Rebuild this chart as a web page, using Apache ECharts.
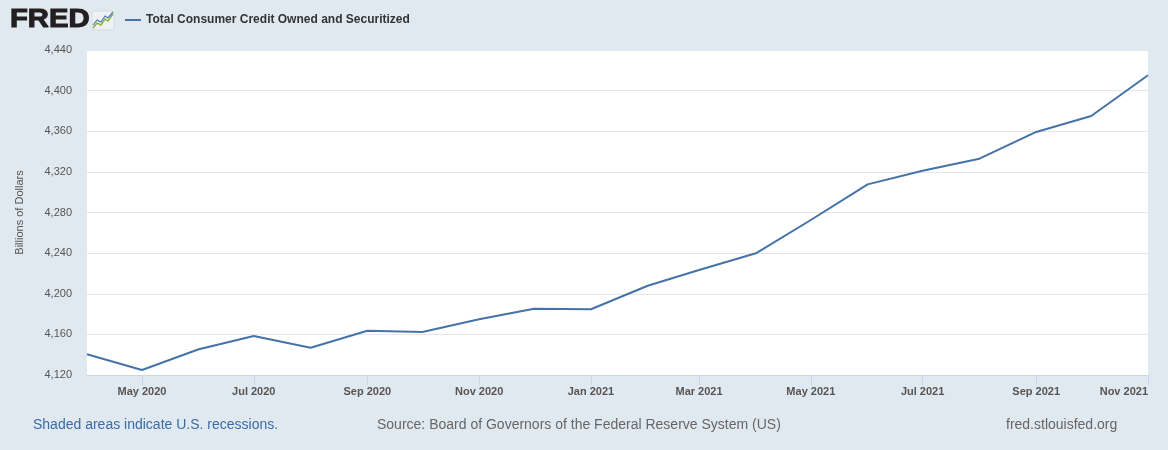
<!DOCTYPE html>
<html>
<head>
<meta charset="utf-8">
<script src="https://cdn.jsdelivr.net/npm/echarts@6/dist/echarts.min.js"></script>
<style>
html,body{margin:0;padding:0;background:#e1e9f0;}
#c{width:1168px;height:450px;}
</style>
</head>
<body>
<div id="c"></div>
<script>
const seriesName = 'Total Consumer Credit Owned and Securitized';
const dates = ['2020-04-01','2020-05-01','2020-06-01','2020-07-01','2020-08-01','2020-09-01','2020-10-01','2020-11-01','2020-12-01','2021-01-01','2021-02-01','2021-03-01','2021-04-01','2021-05-01','2021-06-01','2021-07-01','2021-08-01','2021-09-01','2021-10-01','2021-11-01'];
const values = [4140.4,4124.9,4145.3,4158.4,4146.9,4163.6,4162.3,4174.8,4185.3,4184.7,4207.9,4223.4,4239.8,4272.6,4307.7,4321.2,4333.0,4359.3,4375.0,4415.1];
const xTickDates = ['2020-05-01','2020-07-01','2020-09-01','2020-11-01','2021-01-01','2021-03-01','2021-05-01','2021-07-01','2021-09-01','2021-11-01'];
const yMin = 4120, yMax = 4440, yStep = 40;
const monthNames = ['Jan','Feb','Mar','Apr','May','Jun','Jul','Aug','Sep','Oct','Nov','Dec'];

function ts(s){ const p = s.split('-'); return Date.UTC(+p[0], +p[1]-1, +p[2]); }

const chart = echarts.init(document.getElementById('c'), null, {renderer:'canvas'});
const tickTs = xTickDates.map(ts);
const option = {
  backgroundColor: '#e1e9f0',
  animation: false,
  textStyle: {fontFamily: '"Liberation Sans", Arial, sans-serif'},
  grid: {left: 87, top: 50, right: 20, bottom: 75, backgroundColor: '#ffffff', show: true, borderWidth: 0},
  legend: {
    show: true,
    left: 120, top: 9,
    itemWidth: 16, itemHeight: 2,
    icon: 'rect',
    itemGap: 8,
    textStyle: {fontSize: 12, fontWeight: 'bold', color: '#333333', fontFamily: '"Liberation Sans", Arial, sans-serif'},
    data: [seriesName]
  },
  xAxis: {
    type: 'value',
    min: ts(dates[0]),
    max: ts(dates[dates.length-1]),
    axisLine: {show: true, lineStyle: {color: '#ccd6eb', width: 1}},
    axisTick: {show: true, length: 10, lineStyle: {color: '#ccd6eb'}, customValues: tickTs},
    splitLine: {show: false},
    axisLabel: {
      customValues: tickTs,
      color: '#555555',
      fontSize: 11,
      fontWeight: 'bold',
      margin: 11,
      alignMaxLabel: 'right',
      hideOverlap: false,
      formatter: function(v){ const d = new Date(v); return monthNames[d.getUTCMonth()] + ' ' + d.getUTCFullYear(); }
    }
  },
  yAxis: {
    type: 'value',
    min: yMin, max: yMax, interval: yStep,
    name: 'Billions of Dollars',
    nameLocation: 'middle',
    nameGap: 62,
    nameRotate: 90,
    nameTextStyle: {fontSize: 11, color: '#555555'},
    axisLine: {show: false},
    axisTick: {show: false},
    splitLine: {show: true, lineStyle: {color: '#e6e6e6', width: 1}},
    axisLabel: {
      color: '#555555', fontSize: 11, margin: 15,
      formatter: function(v){ return v.toLocaleString('en-US'); }
    }
  },
  series: [{
    name: seriesName,
    type: 'line',
    data: dates.map((d,i)=>[ts(d), values[i]]),
    showSymbol: false,
    symbol: 'none',
    lineStyle: {color: '#4572a7', width: 2},
    itemStyle: {color: '#4572a7'}
  }],
  graphic: [
    {type: 'text', x: 10, y: 8, scaleX: 1.17, style: {text: 'FRED', font: 'bold 25px "Liberation Sans", Arial, sans-serif', fill: '#231f20', stroke: '#231f20', lineWidth: 1}},
    {type: 'rect', shape: {x: 92, y: 11, width: 22, height: 19, r: 2}, style: {fill: '#eef2f4', stroke: '#d5dde3', lineWidth: 1}},
    {type: 'polyline', shape: {points: [[93,28],[97,23],[101,25],[105,19],[108,21],[113,14]]}, style: {stroke: '#8ab73b', lineWidth: 1.5, fill: null}},
    {type: 'polyline', shape: {points: [[93,25],[97,20],[101,22],[105,16],[108,18],[113,12]]}, style: {stroke: '#4f7ab8', lineWidth: 1.2, fill: null}},
    {type: 'text', left: 33, top: 418, style: {text: 'Shaded areas indicate U.S. recessions.', font: '14px "Liberation Sans", Arial, sans-serif', fill: '#3a6ba5'}},
    {type: 'text', left: 377, top: 418, style: {text: 'Source: Board of Governors of the Federal Reserve System (US)', font: '14px "Liberation Sans", Arial, sans-serif', fill: '#666666'}},
    {type: 'text', left: 1006, top: 418, style: {text: 'fred.stlouisfed.org', font: '14px "Liberation Sans", Arial, sans-serif', fill: '#666666'}}
  ]
};
chart.setOption(option);
</script>
</body>
</html>
